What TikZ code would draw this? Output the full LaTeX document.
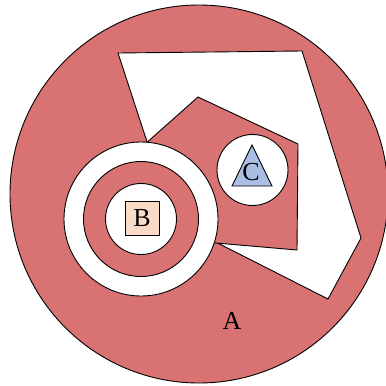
\documentclass[tikz,border=0pt]{standalone}
\usepackage{fontspec}
\setmainfont{Liberation Serif}
\usepackage{tikz}
\definecolor{regionred}{RGB}{217,114,114}
\definecolor{peach}{RGB}{250,219,199}
\definecolor{paleblue}{RGB}{170,190,228}

\begin{document}
\begin{tikzpicture}[x=1pt, y=-1pt, line width=0.9pt,
  region/.style={draw, fill=regionred},
  hole/.style={draw, fill=white},
  disk/.style={circle, inner sep=0pt},
  lbl/.style={font=\fontsize{26}{30}\selectfont, inner sep=0pt}]

\useasboundingbox (0,0) rectangle (386,386);

% outer set A
\node (A) at (199,194) [region, disk, minimum size=378pt] {};
\node (labelA) at (232,321) [lbl] {A};

% white cut-out and the red part inside it
\draw[hole] (118,53) -- (302,51) -- (361,238) -- (328,299) -- (190,229) -- (152,157) -- cycle;
\draw[region] (198,97) -- (298,144) -- (297,250) -- (216,243) -- (190,241) -- (135,153) -- cycle;

% C
\node (cdisk) at (252.5,170) [hole, disk, minimum size=71pt] {};
\draw[fill=paleblue] (252,145) -- (272,186) -- (232,186) -- cycle;
\node (C) at (251,172) [lbl] {C};

% rings round B
\node (ringout) at (141,219) [hole, disk, minimum size=154pt] {};
\node (ringmid) at (ringout) [region, disk, minimum size=115pt] {};
\node (ringin) at (ringout) [hole, disk, minimum size=71pt] {};
\node (B) at (142,218) [draw, fill=peach, lbl, minimum size=34pt] {B};

\end{tikzpicture}
\end{document}
